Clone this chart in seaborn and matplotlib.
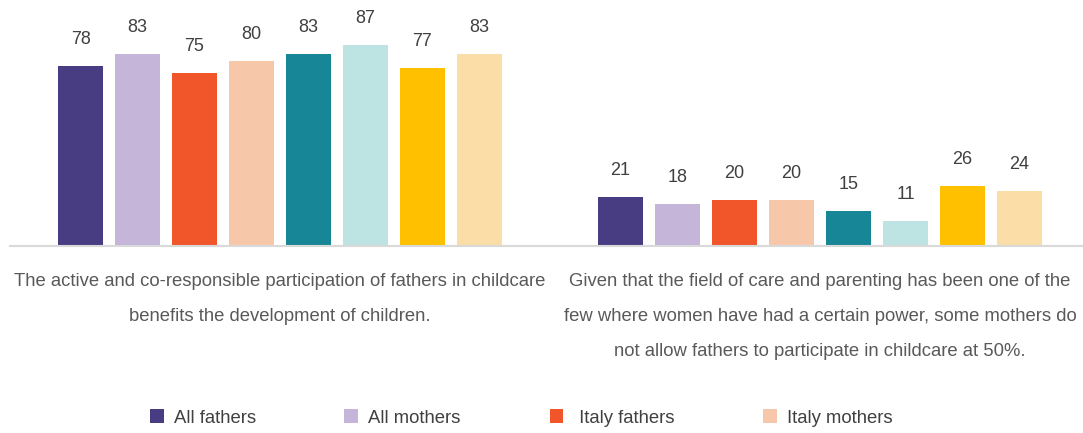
import matplotlib
matplotlib.use("Agg")
import matplotlib.pyplot as plt
import seaborn as sns
import pandas as pd

statements = [
    "The active and co-responsible participation of fathers in childcare\nbenefits the development of children.",
    "Given that the field of care and parenting has been one of the\nfew where women have had a certain power, some mothers do\nnot allow fathers to participate in childcare at 50%.",
]
groups = ["All fathers", "All mothers", " Italy fathers", "Italy mothers",
          "Country 2 fathers", "Country 2 mothers", "Country 3 fathers", "Country 3 mothers"]
values_s1 = [78, 83, 75, 80, 83, 87, 77, 83]
values_s2 = [21, 18, 20, 20, 15, 11, 26, 24]
colors = ["#483D82", "#C4B5D9", "#F1552A", "#F7C7A9",
          "#178697", "#BDE3E3", "#FFC000", "#FBDEA7"]

rows = []
for g, v1, v2 in zip(groups, values_s1, values_s2):
    rows.append({"statement": statements[0], "group": g, "value": v1})
    rows.append({"statement": statements[1], "group": g, "value": v2})
df = pd.DataFrame(rows)

sns.set_theme(style="white")
plt.rcParams["font.family"] = ["Liberation Sans", "DejaVu Sans"]

fig = plt.figure(figsize=(10.83, 4.33), dpi=100)
ax = fig.add_axes([10 / 1083, 1 - 246 / 433, 1080 / 1083, 231 / 433])

sns.barplot(data=df, x="statement", y="value", hue="group", order=statements,
            hue_order=groups, palette=colors, width=0.844, gap=0.21,
            saturation=1, ax=ax, legend=True, edgecolor="none")

for c in ax.containers:
    ax.bar_label(c, fmt="%d", padding=13, fontsize=13, color="#404040")

ax.set_ylim(0, 100)
ax.set_xlim(-0.5, 1.5)
ax.set_xlabel("")
ax.set_ylabel("")
ax.set_yticks([])
for s in ["top", "right", "left"]:
    ax.spines[s].set_visible(False)
ax.spines["bottom"].set_color("#D9D9D9")
ax.spines["bottom"].set_linewidth(1.5)
ax.tick_params(axis="x", length=0, pad=19.5, labelsize=13.3, labelcolor="#595959")
for t in ax.get_xticklabels():
    t.set_linespacing(2.4)

handles, labels = ax.get_legend_handles_labels()
ax.get_legend().remove()
fig.legend(handles[:4], labels[:4], ncol=4, loc="center",
           bbox_to_anchor=(521 / 1083, 1 - 418 / 433), frameon=False,
           fontsize=13.3, labelcolor="#404040", handlelength=0.75, handleheight=0.75,
           handletextpad=0.55, columnspacing=4.8)

fig.savefig("out.png", dpi=100)
